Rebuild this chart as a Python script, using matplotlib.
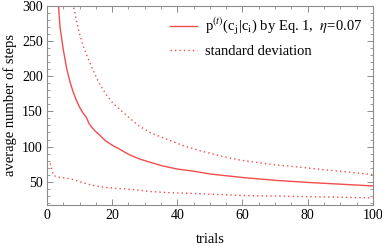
import matplotlib
matplotlib.use("Agg")
import matplotlib.pyplot as plt
from matplotlib.ticker import MultipleLocator

plt.rcParams['font.family'] = ['Liberation Serif', 'DejaVu Serif']
plt.rcParams['mathtext.fontset'] = 'stix'

# mean number of steps
trials_mean = [3, 4, 5, 6, 7, 8, 9, 10, 11, 12, 13, 14, 15, 16, 18, 20, 22, 25, 28,
               30, 35, 40, 45, 50, 55, 60, 70, 80, 90, 100]
steps_mean = [335, 270, 238, 212, 193, 178, 166, 156, 148, 142, 132, 126, 121, 117, 108,
              102, 97, 89, 83, 80, 73, 68, 65, 61, 58.5, 56, 52, 49, 46.5, 44]

# mean + standard deviation
trials_upper = [7, 8, 9, 10, 11, 12, 14, 16, 18, 20, 22.5, 25, 28, 32, 37, 42, 47, 53,
                59, 65, 70, 77, 85, 92, 100]
steps_upper = [330, 302, 280, 260, 245, 232, 210, 190, 175, 163, 152, 142, 130, 119, 110,
               101, 94, 87, 81, 77, 74, 71, 67, 64, 60]

# mean - standard deviation
trials_lower = [1, 2, 3, 4, 5, 6, 7, 8, 10, 13, 16, 20, 26, 32, 37, 47, 59, 70, 77, 90, 100]
steps_lower = [76, 59, 57, 56, 55.5, 55, 54, 53, 50, 46, 43, 41, 39, 36, 34.5, 33, 30.5,
               29.5, 29, 28, 27]

red = '#f24d4d'
grey = '#8c8c8c'

fig = plt.figure(figsize=(3.82, 2.46), dpi=100)
ax = fig.add_axes([0.123, 0.167, 0.853, 0.809])

ax.plot(trials_mean, steps_mean, color=red, lw=1.0,
        label=r"p$^{(t)}$(c$_{\rm j}$|c$_{\rm i}$) by Eq. 1,  $\eta$=0.07")
ax.plot(trials_upper, steps_upper, color=red, lw=1.0, ls=(0, (1, 2.2)),
        label="standard deviation")
ax.plot(trials_lower, steps_lower, color=red, lw=1.0, ls=(0, (1, 2.2)))

ax.set_xlim(0, 100)
ax.set_ylim(17, 300)
ax.xaxis.set_major_locator(MultipleLocator(20))
ax.xaxis.set_minor_locator(MultipleLocator(5))
ax.yaxis.set_major_locator(MultipleLocator(50))
ax.yaxis.set_minor_locator(MultipleLocator(10))
ax.set_yticks([50, 100, 150, 200, 250, 300])

for s in ax.spines.values():
    s.set_color(grey)
    s.set_linewidth(0.8)
ax.tick_params(which='both', direction='in', top=True, right=True, color=grey,
               labelsize=10, pad=3)
ax.tick_params(which='major', length=4, width=0.7)
ax.tick_params(which='minor', length=2, width=0.6)

ax.set_xlabel("trials", fontsize=10.5, labelpad=8)
ax.set_ylabel("average number of steps", fontsize=10.5, labelpad=4)

ax.legend(loc='upper right', frameon=False, fontsize=10.5, handlelength=1.8,
          handletextpad=0.6, borderaxespad=0.3, labelspacing=0.5)

fig.savefig("out.png", dpi=100)
